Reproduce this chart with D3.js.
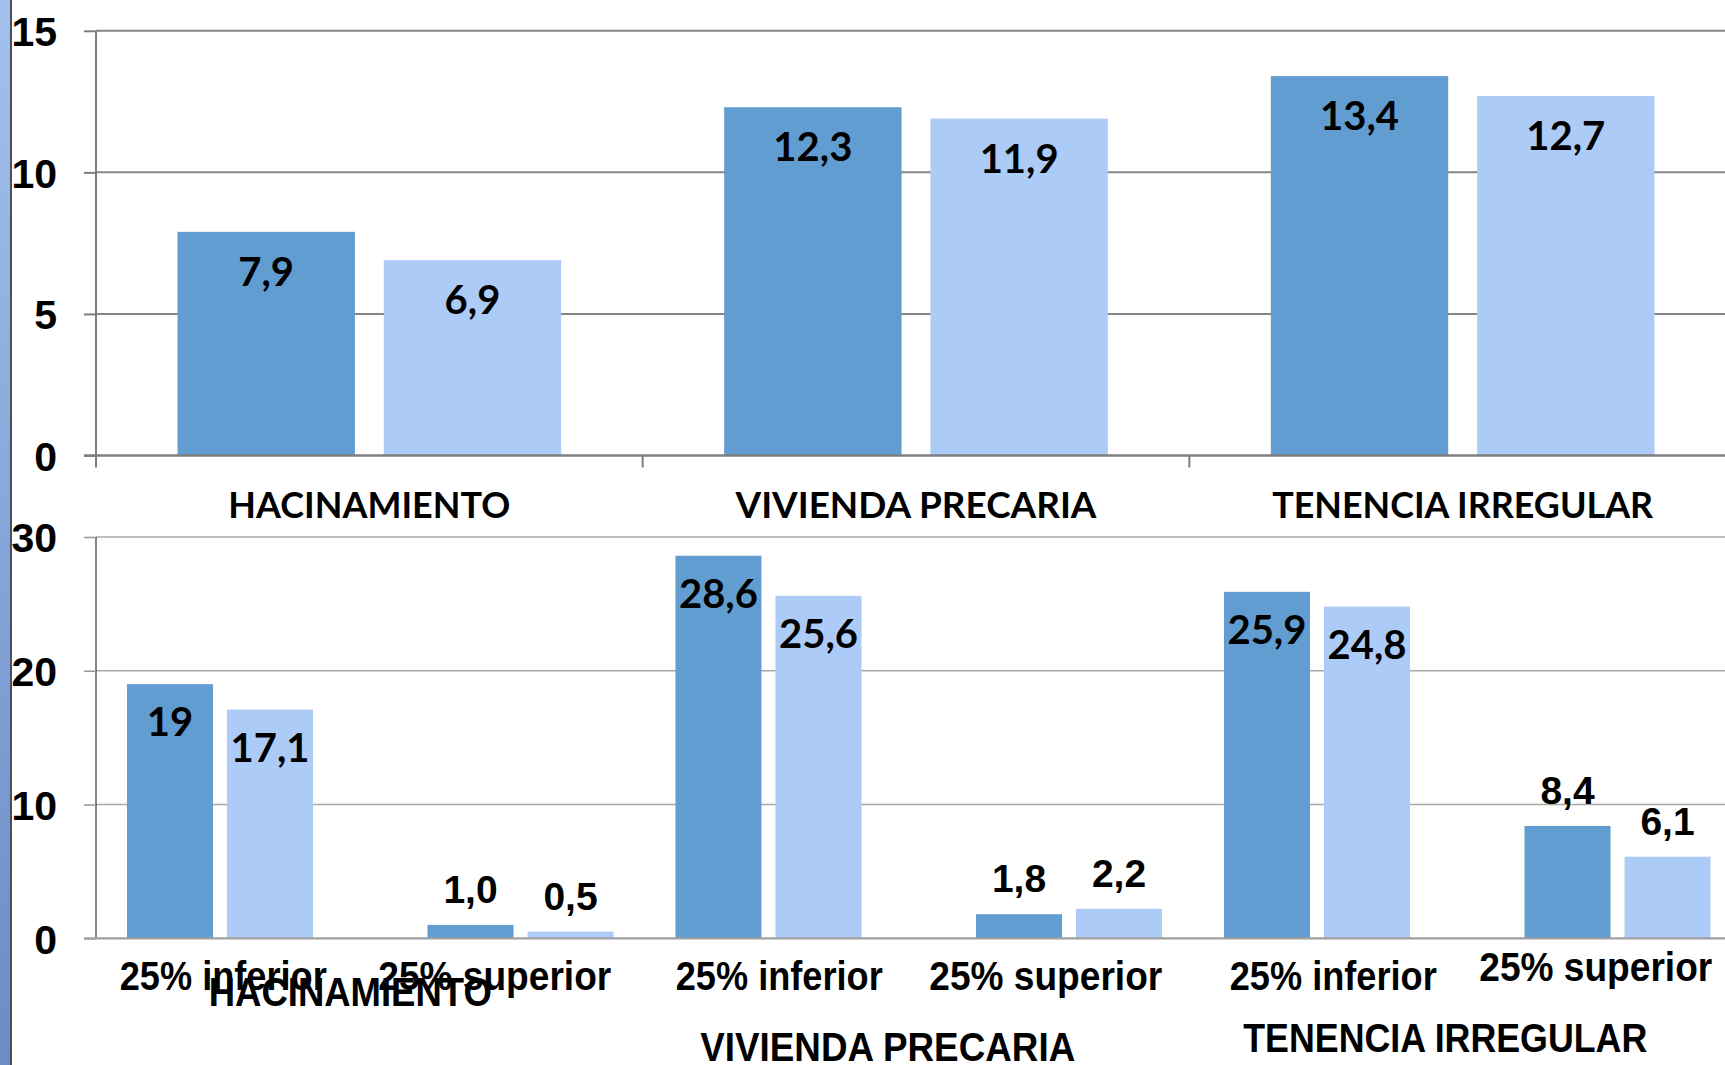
<!DOCTYPE html>
<html><head><meta charset="utf-8">
<script src="https://cdn.jsdelivr.net/npm/d3@7"></script>
<style>
html,body{margin:0;padding:0;background:#fff;overflow:hidden}
svg{display:block}
</style></head>
<body>
<script>
// ---------- DATA ----------
const groups = ["HACINAMIENTO", "VIVIENDA PRECARIA", "TENENCIA IRREGULAR"];
const seriesKeys = ["A", "B"];
const topSeriesA = [7.9, 12.3, 13.4];
const topSeriesB = [6.9, 11.9, 12.7];
const topLabelsA = ["7,9", "12,3", "13,4"];
const topLabelsB = ["6,9", "11,9", "12,7"];
const topTicks = [0, 5, 10, 15];

const subCats = ["25% inferior", "25% superior"];
// order: HAC inf, HAC sup, VIV inf, VIV sup, TEN inf, TEN sup
const bottomSeriesA = [19, 1.0, 28.6, 1.8, 25.9, 8.4];
const bottomSeriesB = [17.1, 0.5, 25.6, 2.2, 24.8, 6.1];
const bottomLabelsA = ["19", "1,0", "28,6", "1,8", "25,9", "8,4"];
const bottomLabelsB = ["17,1", "0,5", "25,6", "2,2", "24,8", "6,1"];
const bottomTicks = [0, 10, 20, 30];

// ---------- SETUP ----------
const W = 1725, H = 1065;
const svg = d3.select("body").append("svg").attr("width", W).attr("height", H);
const C_DARK = "#629dd1", C_LIGHT = "#adcbf7";
const ARIAL = "'Liberation Sans', Arial, sans-serif";
const GOTHIC = "Lato, 'Open Sans', sans-serif";

// left decorative strip
const defs = svg.append("defs");
const lg = defs.append("linearGradient").attr("id", "strip").attr("x1", 0).attr("y1", 0).attr("x2", 0).attr("y2", 1);
lg.append("stop").attr("offset", 0).attr("stop-color", "#a4c0ec");
lg.append("stop").attr("offset", 0.5).attr("stop-color", "#86a6da");
lg.append("stop").attr("offset", 1).attr("stop-color", "#6d8bc4");
svg.append("rect").attr("x", 0).attr("y", 0).attr("width", 10).attr("height", H).attr("fill", "url(#strip)");
svg.append("rect").attr("x", 10).attr("y", 0).attr("width", 2).attr("height", H).attr("fill", "#4a4f5a");

// ---------- TOP CHART ----------
const topX = d3.scaleBand().domain(groups).range([96, 1736]);
const topX1 = d3.scaleBand().domain(seriesKeys).range([0, topX.bandwidth()]).paddingInner(0.14).paddingOuter(0.395);
const topY = d3.scaleLinear().domain([0, 15]).range([455.5, 30.8]);

const topG = svg.append("g");
topG.append("g").selectAll("line").data(topTicks.filter(t => t > 0)).join("line")
  .attr("x1", 96).attr("x2", W).attr("y1", d => topY(d)).attr("y2", d => topY(d))
  .attr("stroke", "#858585").attr("stroke-width", 2);

const topData = groups.map((g, i) => ({ g, vals: [
  { k: "A", v: topSeriesA[i], lab: topLabelsA[i] },
  { k: "B", v: topSeriesB[i], lab: topLabelsB[i] }] }));

const tg = topG.append("g").selectAll("g").data(topData).join("g")
  .attr("transform", d => `translate(${topX(d.g)},0)`);
tg.selectAll("rect").data(d => d.vals).join("rect")
  .attr("x", d => topX1(d.k)).attr("width", topX1.bandwidth())
  .attr("y", d => topY(d.v)).attr("height", d => topY(0) - topY(d.v))
  .attr("fill", d => d.k === "A" ? C_DARK : C_LIGHT);
tg.selectAll("text").data(d => d.vals).join("text")
  .attr("x", d => topX1(d.k) + topX1.bandwidth() / 2)
  .attr("y", d => topY(d.v) + 54)
  .attr("text-anchor", "middle").attr("font-family", GOTHIC).attr("font-weight", 700)
  .attr("font-size", 40).attr("fill", "#000").text(d => d.lab);

const topAxis = topG.append("g").attr("transform", "translate(96,0)")
  .call(d3.axisLeft(topY).tickValues(topTicks).tickSize(12).tickPadding(27).tickFormat(d3.format("d")));
topAxis.select(".domain").attr("stroke", "#7f7f7f").attr("stroke-width", 2).attr("d", `M0,${topY(15)}V${topY(0)}`);
topAxis.selectAll(".tick line").attr("stroke", "#7f7f7f").attr("stroke-width", 2);
topAxis.selectAll(".tick text").attr("font-family", ARIAL).attr("font-weight", 700).attr("font-size", 41)
  .attr("fill", "#000").attr("dy", "0.36em");

topG.append("line").attr("x1", 84).attr("x2", W).attr("y1", topY(0)).attr("y2", topY(0))
  .attr("stroke", "#7f7f7f").attr("stroke-width", 2.5);
topG.append("g").selectAll("line").data(groups.concat(["end"])).join("line")
  .attr("x1", (d, i) => i < groups.length ? topX(d) : topX.range()[1])
  .attr("x2", (d, i) => i < groups.length ? topX(d) : topX.range()[1])
  .attr("y1", topY(0)).attr("y2", topY(0) + 12)
  .attr("stroke", "#7f7f7f").attr("stroke-width", 2);
const topGroupWidths = [282, 361, 381];
topG.append("g").selectAll("text").data(groups).join("text")
  .attr("x", d => topX(d) + topX.bandwidth() / 2).attr("y", 518)
  .attr("text-anchor", "middle").attr("font-family", GOTHIC).attr("font-weight", 700)
  .attr("font-size", 36).attr("fill", "#000")
  .attr("textLength", (d, i) => topGroupWidths[i]).attr("lengthAdjust", "spacingAndGlyphs")
  .text(d => d);

// ---------- BOTTOM CHART ----------
const botX = d3.scaleBand().domain(groups).range([96, 1741.5]);
const botSub = d3.scaleBand().domain(subCats).range([0, botX.bandwidth()]).paddingInner(0.381).paddingOuter(0.103);
const botX1 = d3.scaleBand().domain(seriesKeys).range([0, botSub.bandwidth()]).paddingInner(0.14);
const botY = d3.scaleLinear().domain([0, 30]).range([938.3, 537]);

const botG = svg.append("g");
botG.append("g").selectAll("line").data(bottomTicks.filter(t => t > 0)).join("line")
  .attr("x1", 96).attr("x2", W).attr("y1", d => botY(d)).attr("y2", d => botY(d))
  .attr("stroke", "#a9a9a9").attr("stroke-width", 1.6);

const botData = [];
groups.forEach((g, gi) => subCats.forEach((s, si) => {
  const i = gi * 2 + si;
  botData.push({ g, s, vals: [
    { k: "A", v: bottomSeriesA[i], lab: bottomLabelsA[i], inside: si === 0 },
    { k: "B", v: bottomSeriesB[i], lab: bottomLabelsB[i], inside: si === 0 }] });
}));
const bg = botG.append("g").selectAll("g").data(botData).join("g")
  .attr("transform", d => `translate(${botX(d.g) + botSub(d.s)},0)`);
bg.selectAll("rect").data(d => d.vals).join("rect")
  .attr("x", d => botX1(d.k)).attr("width", botX1.bandwidth())
  .attr("y", d => botY(d.v)).attr("height", d => botY(0) - botY(d.v))
  .attr("fill", d => d.k === "A" ? C_DARK : C_LIGHT);
bg.selectAll("text").data(d => d.vals).join("text")
  .attr("x", d => botX1(d.k) + botX1.bandwidth() / 2)
  .attr("y", d => d.inside ? botY(d.v) + 52 : botY(d.v) - 22)
  .attr("text-anchor", "middle")
  .attr("font-family", d => d.inside ? GOTHIC : ARIAL).attr("font-weight", 700)
  .attr("font-size", d => d.inside ? 40 : 39).attr("fill", "#000").text(d => d.lab);

const botAxis = botG.append("g").attr("transform", "translate(96,0)")
  .call(d3.axisLeft(botY).tickValues(bottomTicks).tickSize(12).tickPadding(27).tickFormat(d3.format("d")));
botAxis.select(".domain").attr("stroke", "#333").attr("stroke-width", 1.2).attr("d", `M0,${botY(30)}V${botY(0)}`);
botAxis.selectAll(".tick line").attr("stroke", "#9a9a9a").attr("stroke-width", 1.6);
botAxis.selectAll(".tick text").attr("font-family", ARIAL).attr("font-weight", 700).attr("font-size", 41)
  .attr("fill", "#000").attr("dy", "0.36em");
botG.append("line").attr("x1", 84).attr("x2", W).attr("y1", botY(0)).attr("y2", botY(0))
  .attr("stroke", "#a0a0a0").attr("stroke-width", 2.2);

// sub-category labels (row spread as on the original slide)
const subLabels = [];
groups.forEach(g => subCats.forEach(s => subLabels.push({ g, s, id: g + "|" + s })));
const labX = d3.scaleBand().domain(subLabels.map(d => d.id)).range([86, 1733]);
const labShift = [0, -3, 7, -1, 12, 0];
botG.append("g").selectAll("text").data(subLabels).join("text")
  .attr("x", (d, i) => labX(d.id) + labX.bandwidth() / 2 + labShift[i])
  .attr("y", (d, i) => i === 5 ? 981 : 990)
  .attr("text-anchor", "middle").attr("font-family", ARIAL).attr("font-weight", 700)
  .attr("font-size", 40).attr("fill", "#000")
  .attr("textLength", d => d.s === subCats[0] ? 207 : 233).attr("lengthAdjust", "spacingAndGlyphs")
  .text(d => d.s);

const botGroupWidths = [283, 375, 404];
const botGroupBase = [1006, 1061, 1052];
const botGroupShift = [-20, -31, -22];
botG.append("g").selectAll("text").data(groups).join("text")
  .attr("x", (d, i) => botX(d) + botX.bandwidth() / 2 + botGroupShift[i])
  .attr("y", (d, i) => botGroupBase[i])
  .attr("text-anchor", "middle").attr("font-family", ARIAL).attr("font-weight", 700)
  .attr("font-size", 40).attr("fill", "#000")
  .attr("textLength", (d, i) => botGroupWidths[i]).attr("lengthAdjust", "spacingAndGlyphs")
  .text(d => d);
</script>
</body></html>
